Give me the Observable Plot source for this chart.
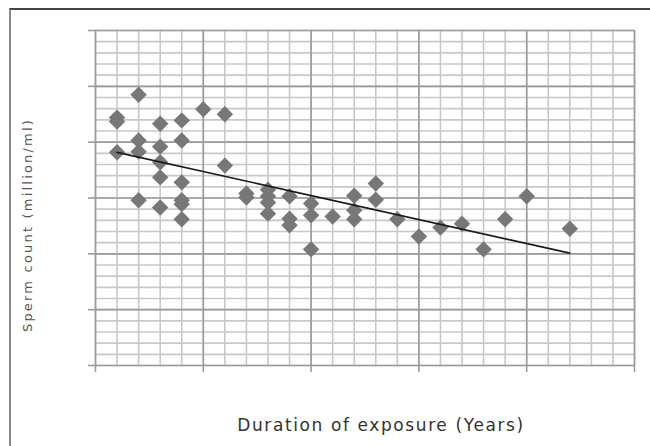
<!DOCTYPE html>
<html>
<head>
<meta charset="utf-8">
<script src="https://cdn.jsdelivr.net/npm/d3@7"></script>
<script src="https://cdn.jsdelivr.net/npm/@observablehq/plot@0.6"></script>
<style>
  html, body { margin: 0; padding: 0; background: #fff; overflow: hidden; }
  #wrap { position: relative; width: 650px; height: 446px; overflow: hidden; }
  #box { position: absolute; left: 9px; top: 8px; width: 700px; height: 500px;
         border-left: 2px solid #8a8a8a; border-top: 2px solid #444; }
  #chart { position: absolute; left: 0; top: 0; }
</style>
</head>
<body>
<div id="wrap"><div id="box"></div><div id="chart"></div></div>
<script>
// Duration of exposure (years) for each observation
const years = [
  1, 1, 1,
  2, 2, 2, 2,
  3, 3, 3, 3, 3,
  4, 4, 4, 4, 4, 4,
  5,
  6, 6,
  7, 7,
  8, 8, 8, 8,
  9, 9, 9,
  10, 10, 10,
  11,
  12, 12, 12,
  13, 13,
  14, 15, 16, 17, 18, 19, 20, 22
];
// Measured value for each observation
const values = [
  44.4, 43.7, 38.2,
  48.5, 40.3, 38.3, 29.6,
  43.3, 39.2, 36.4, 33.7, 28.3,
  43.9, 40.3, 32.8, 29.6, 28.9, 26.2,
  45.9,
  45.0, 35.8,
  30.8, 30.1,
  31.5, 30.3, 29.2, 27.2,
  30.3, 26.3, 25.1,
  29.0, 26.9, 20.8,
  26.7,
  30.4, 27.8, 26.2,
  32.6, 29.7,
  26.2, 23.1, 24.7, 25.4, 20.8, 26.2, 30.3, 24.5
];
const xLabel = "Duration of exposure (Years)";
const yLabel = "Sperm count (million/ml)";
const xMajor = [0, 5, 10, 15, 20, 25];
const yMajor = [0, 10, 20, 30, 40, 50, 60];
const xMinor = d3.range(0, 26, 1);
const yMinor = d3.range(0, 61, 2);

const points = years.map((x, i) => ({x, y: values[i]}));

const chart = Plot.plot({
  width: 650,
  height: 446,
  marginLeft: 95,
  marginRight: 16,
  marginTop: 30,
  marginBottom: 81,
  style: {background: "none", overflow: "visible"},
  x: {domain: [0, 25], ticks: xMajor, tickSize: 7, tickFormat: () => "", label: null},
  y: {domain: [0, 60], ticks: yMajor, tickSize: 7, tickFormat: () => "", label: null},
  marks: [
    Plot.ruleX(xMinor, {stroke: "#c8c8c8", strokeWidth: 1.6}),
    Plot.ruleY(yMinor, {stroke: "#c8c8c8", strokeWidth: 1.6}),
    Plot.ruleX(xMajor, {stroke: "#9c9c9c", strokeWidth: 1.6}),
    Plot.ruleY(yMajor, {stroke: "#9c9c9c", strokeWidth: 1.6}),
    Plot.axisX({ticks: xMajor, tickSize: 7, tickFormat: () => "", stroke: "#9c9c9c", strokeWidth: 1.6, label: null}),
    Plot.axisY({ticks: yMajor, tickSize: 7, tickFormat: () => "", stroke: "#9c9c9c", strokeWidth: 1.6, label: null}),
    Plot.dot(points, {x: "x", y: "y", symbol: "diamond2", r: 7.4, fill: "#777", stroke: "none"}),
    Plot.linearRegressionY(points, {x: "x", y: "y", ci: 0, stroke: "#1a1a1a", strokeWidth: 1.6}),
    Plot.text([xLabel], {frameAnchor: "bottom", dx: 16, dy: 65, text: d => d,
      fontSize: 17, fill: "#333", fontFamily: "DejaVu Sans"}),
    Plot.text([yLabel], {frameAnchor: "left", textAnchor: "middle", rotate: -90, dx: -68, dy: 27, text: d => d,
      fontSize: 13, fill: "#555", fontFamily: "DejaVu Sans"})
  ]
});
d3.select(chart).selectAll("text").each(function() {
  const t = this.textContent;
  if (t === xLabel) this.style.letterSpacing = "1.6px";
  if (t === yLabel) this.style.letterSpacing = "2.2px";
});
document.getElementById("chart").appendChild(chart);
</script>
</body>
</html>
